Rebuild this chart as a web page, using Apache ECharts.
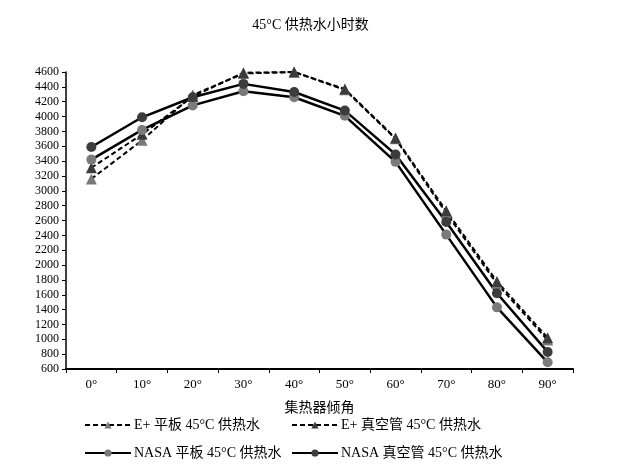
<!DOCTYPE html>
<html>
<head>
<meta charset="utf-8">
<script src="https://cdn.jsdelivr.net/npm/echarts@6/dist/echarts.min.js"></script>
<style>
html,body{margin:0;padding:0;background:#fff;}
#c{width:621px;height:473px;}
</style>
</head>
<body>
<div id="c"></div>
<script>
var categories = ['0°','10°','20°','30°','40°','50°','60°','70°','80°','90°'];
var yTicks = [600, 4600, 200];
var ePlusFlat = [3160, 3680, 4290, 4580, 4600, 4360, 3700, 2700, 1750, 990];
var ePlusVacuum = [3310, 3760, 4270, 4590, 4600, 4370, 3710, 2730, 1780, 1020];
var nasaFlat = [3420, 3820, 4150, 4340, 4260, 4010, 3390, 2410, 1430, 690];
var nasaVacuum = [3590, 3990, 4260, 4440, 4330, 4080, 3490, 2580, 1620, 830];
var names = ['E+ 平板 45°C 供热水', 'E+ 真空管 45°C 供热水', 'NASA 平板 45°C 供热水', 'NASA 真空管 45°C 供热水'];

var FONT = '"Liberation Serif", "Times New Roman", "Noto Sans CJK SC", serif';
var chart = echarts.init(document.getElementById('c'));

function legendAt(name, left, top) {
  return {
    data: [name], left: left, top: top, orient: 'horizontal',
    itemWidth: 46, itemHeight: 9, itemGap: 0, padding: 0,
    textStyle: {fontFamily: FONT, fontSize: 14, color: '#000', padding: [0,0,0,-2]},
    selectedMode: false
  };
}
function mk(name, data, dashed, symbol, color, size) {
  return {
    name: name, type: 'line', data: data,
    symbol: symbol, symbolSize: size,
    itemStyle: {color: color},
    lineStyle: {color: '#000', width: dashed ? 2 : 2.5, type: dashed ? [5, 3] : 'solid'},
    emphasis: {disabled: true},
    animation: false
  };
}

chart.setOption({
  backgroundColor: '#fff',
  animation: false,
  title: {
    text: '45°C 供热水小时数', left: 'center', top: 13,
    textStyle: {fontFamily: FONT, fontSize: 14, fontWeight: 'normal', color: '#000'}
  },
  legend: [
    legendAt(names[0], 84, 418),
    legendAt(names[1], 291, 418),
    legendAt(names[2], 84, 446),
    legendAt(names[3], 291, 446)
  ],
  grid: {left: 66, right: 48, top: 72, bottom: 104, containLabel: false},
  xAxis: {
    type: 'category', data: categories, boundaryGap: true,
    name: '集热器倾角', nameLocation: 'middle', nameGap: 32,
    nameTextStyle: {fontFamily: FONT, fontSize: 14, color: '#000'},
    axisLine: {lineStyle: {color: '#000', width: 2}},
    axisTick: {show: true, alignWithLabel: false, length: 4, lineStyle: {color: '#000', width: 1}},
    axisLabel: {fontFamily: FONT, fontSize: 13, color: '#000', margin: 9},
    splitLine: {show: false}
  },
  yAxis: {
    type: 'value', min: yTicks[0], max: yTicks[1], interval: yTicks[2],
    axisLine: {show: true, lineStyle: {color: '#000', width: 1.5}},
    axisTick: {show: true, length: 4, lineStyle: {color: '#000', width: 1}},
    axisLabel: {fontFamily: FONT, fontSize: 12, color: '#000', margin: 7,
      formatter: function (v) { return String(v); }},
    splitLine: {show: false}
  },
  series: [
    mk(names[0], ePlusFlat, true, 'triangle', '#7a7a7a', 11),
    mk(names[1], ePlusVacuum, true, 'triangle', '#3c3c3c', 11),
    mk(names[2], nasaFlat, false, 'circle', '#7a7a7a', 10),
    mk(names[3], nasaVacuum, false, 'circle', '#3c3c3c', 10)
  ]
});
</script>
</body>
</html>
